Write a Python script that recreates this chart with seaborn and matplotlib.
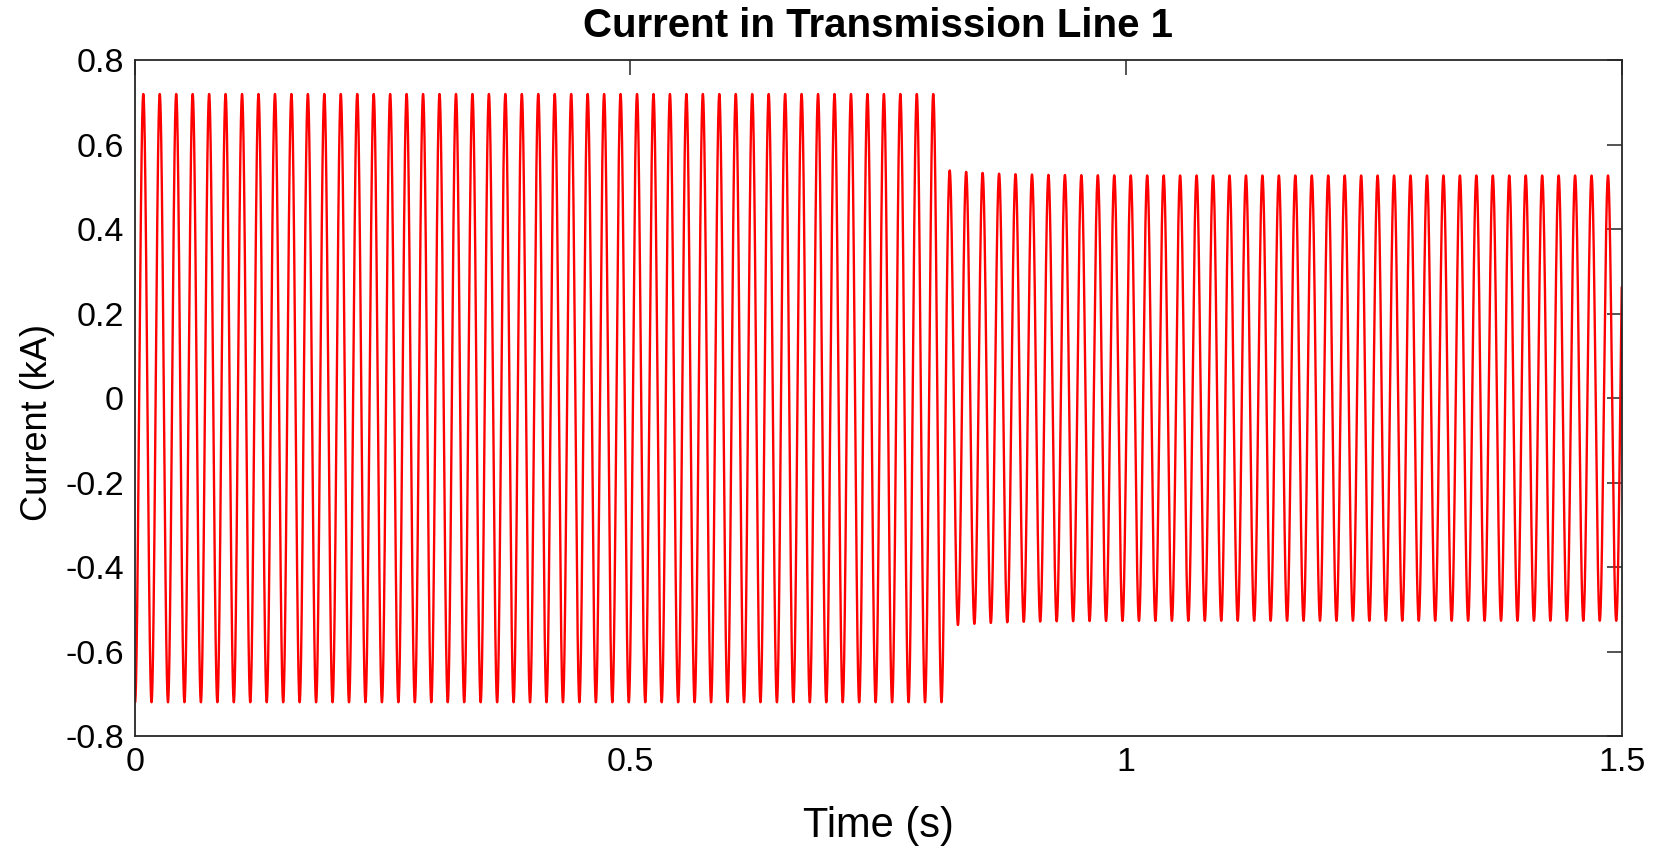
import numpy as np
import pandas as pd
import matplotlib
matplotlib.use("Agg")
import matplotlib.pyplot as plt
import seaborn as sns

# ---- data ----
freq_hz = 60.23                 # waveform frequency (cycles counted on the plot)
trough_offset_s = 0.0002        # time of first trough
switch_time_s = 0.818           # moment the amplitude drops
amp_before_kA = 0.72            # peak current before the switch
amp_after_start_kA = 0.54       # first peaks right after the switch
amp_after_final_kA = 0.527      # settled peak current after the switch
settle_tau_s = 0.05
t_end_s = 1.5
dt_s = 1e-4

x_ticks = [0, 0.5, 1, 1.5]
x_ticklabels = ["0", "0.5", "1", "1.5"]
y_ticks = [-0.8, -0.6, -0.4, -0.2, 0, 0.2, 0.4, 0.6, 0.8]
y_ticklabels = ["-0.8", "-0.6", "-0.4", "-0.2", "0", "0.2", "0.4", "0.6", "0.8"]

title = "Current in Transmission Line 1"
xlabel = "Time (s)"
ylabel = "Current (kA)"

# ---- build waveform ----
t = np.arange(0, t_end_s + dt_s / 2, dt_s)
amp = np.where(
    t < switch_time_s,
    amp_before_kA,
    amp_after_final_kA + (amp_after_start_kA - amp_after_final_kA)
    * np.exp(-(t - switch_time_s) / settle_tau_s),
)
current = -amp * np.cos(2 * np.pi * freq_hz * (t - trough_offset_s))
df = pd.DataFrame({"time": t, "current": current})

# ---- plot ----
sns.set_theme(style="white")
plt.rcParams["font.family"] = ["Liberation Sans", "DejaVu Sans"]
plt.rcParams["axes.unicode_minus"] = False

fig = plt.figure(figsize=(16.65, 8.48), dpi=100)
ax = fig.add_axes([0.081, 0.132, 0.893, 0.797])

sns.lineplot(data=df, x="time", y="current", ax=ax, color="#ff0000",
             linewidth=1.7, estimator=None, sort=False)

ax.set_xlim(0, 1.5)
ax.set_ylim(-0.8, 0.8)
ax.set_xticks(x_ticks)
ax.set_xticklabels(x_ticklabels)
ax.set_yticks(y_ticks)
ax.set_yticklabels(y_ticklabels)

ax.tick_params(direction="in", length=10.5, width=1.1, colors="#262626",
               labelsize=24.5, top=True, right=True, pad=8, labelcolor="black")
for s in ax.spines.values():
    s.set_visible(True)
    s.set_color("#262626")
    s.set_linewidth(1.3)

ax.set_title(title, fontsize=29, fontweight="bold", color="black", pad=17)
ax.set_xlabel(xlabel, fontsize=30, color="black", labelpad=20)
ax.set_ylabel(ylabel, fontsize=26, color="black")
ax.yaxis.set_label_coords(-0.054, 0.464)
ax.grid(False)

fig.savefig("out.png", dpi=100, facecolor="white")
